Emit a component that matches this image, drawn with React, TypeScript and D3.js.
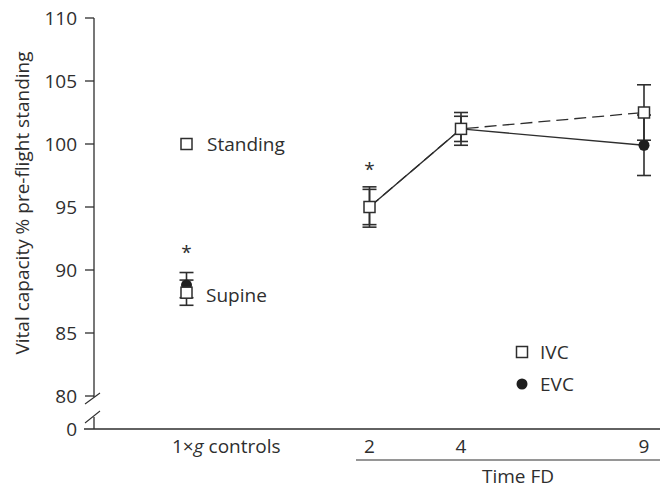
import React, { useEffect, useRef } from "react";
import * as d3 from "d3";

// x slots: controls, (gap), day 2, day 4, (gap), day 9
const slots = ["ctrl", "gapA", "2", "4", "gapB", "9"];
const dayLabels = ["2", "4", "9"];
const yTicks = [80, 85, 90, 95, 100, 105, 110];

// standing control (IVC only)
const standingValue = 100;

// supine controls
const supineIVC = { mean: 88.2, err: 1.0 };
const supineEVC = { mean: 88.8, err: 1.0 };

// in-flight days
const flightDays = ["2", "4", "9"];
const ivcMean = [95.0, 101.2, 102.5];
const ivcErr = [1.4, 1.3, 2.2];
const evcMean = [95.0, 101.2, 99.9];
const evcErr = [1.6, 1.0, 2.4];

const starSlots = ["ctrl", "2"];
const starValues = [92.0, 98.6];

const App = () => {
  const ref = useRef<SVGSVGElement | null>(null);

  useEffect(() => {
    const svg = d3.select(ref.current);
    svg.selectAll("*").remove();

    const ink = "#2e2e2e";
    const font = "'Open Sans', Roboto, sans-serif";
    const fs = 19;

    const x = d3.scalePoint<string>().domain(slots).range([186.5, 644]);
    const y = d3.scaleLinear().domain([80, 110]).range([396, 18]);
    const axisX = 94;
    const zeroY = 429;

    const txt = (sel: any) =>
      sel.attr("font-family", font).attr("font-size", fs).attr("fill", ink);

    // y axis with break
    const g = svg.append("g");
    g.append("line")
      .attr("x1", axisX).attr("x2", axisX)
      .attr("y1", y(110)).attr("y2", y(80) + 1)
      .attr("stroke", ink).attr("stroke-width", 1.3);
    g.append("line")
      .attr("x1", axisX).attr("x2", axisX)
      .attr("y1", zeroY - 12).attr("y2", zeroY)
      .attr("stroke", ink).attr("stroke-width", 1.3);
    // break slashes
    [[y(80) + 8, y(80) - 3], [zeroY - 6, zeroY - 18]].forEach(([ya, yb]) => {
      g.append("line")
        .attr("x1", axisX - 9).attr("y1", ya)
        .attr("x2", axisX + 6).attr("y2", yb)
        .attr("stroke", ink).attr("stroke-width", 1.1);
    });

    yTicks.forEach((t) => {
      g.append("line")
        .attr("x1", axisX - 9).attr("x2", axisX)
        .attr("y1", y(t)).attr("y2", y(t))
        .attr("stroke", ink).attr("stroke-width", 1.3);
      g.append("text")
        .attr("x", axisX - 17).attr("y", y(t))
        .attr("dy", "0.35em")
        .attr("text-anchor", "end")
        .call(txt)
        .text(t);
    });
    g.append("text")
      .attr("x", axisX - 17).attr("y", zeroY)
      .attr("dy", "0.35em")
      .attr("text-anchor", "end")
      .call(txt)
      .text("0");

    // x axis
    g.append("line")
      .attr("x1", axisX - 10).attr("x2", 660)
      .attr("y1", zeroY).attr("y2", zeroY)
      .attr("stroke", ink).attr("stroke-width", 1.3);

    g.append("text")
      .attr("x", 172).attr("y", zeroY + 24)
      .call(txt)
      .call((t: any) => {
        t.append("tspan").text("1×");
        t.append("tspan").attr("font-style", "italic").text("g");
        t.append("tspan").text(" controls");
      });

    dayLabels.forEach((d) => {
      g.append("text")
        .attr("x", x(d)!).attr("y", zeroY + 24)
        .attr("text-anchor", "middle")
        .call(txt)
        .text(d);
    });
    g.append("line")
      .attr("x1", 356).attr("x2", 660)
      .attr("y1", zeroY + 31).attr("y2", zeroY + 31)
      .attr("stroke", ink).attr("stroke-width", 1.2);
    g.append("text")
      .attr("x", 518).attr("y", zeroY + 54)
      .attr("text-anchor", "middle")
      .call(txt)
      .text("Time FD");

    // y label
    g.append("text")
      .attr("transform", `translate(22,203) rotate(-90)`)
      .attr("text-anchor", "middle")
      .attr("dy", "0.35em")
      .call(txt)
      .text("Vital capacity % pre-flight standing");

    // lines
    const line = d3
      .line<[string, number]>()
      .x((d) => x(d[0])!)
      .y((d) => y(d[1]));
    const ivcPts: [string, number][] = flightDays.map((d, i) => [d, ivcMean[i]]);
    const evcPts: [string, number][] = flightDays.map((d, i) => [d, evcMean[i]]);
    svg.append("path")
      .attr("d", line(ivcPts))
      .attr("fill", "none")
      .attr("stroke", ink).attr("stroke-width", 1.3)
      .attr("stroke-dasharray", "12,6");
    svg.append("path")
      .attr("d", line(evcPts))
      .attr("fill", "none")
      .attr("stroke", ink).attr("stroke-width", 1.4);

    // error bars
    const errBar = (xs: string, m: number, e: number) => {
      const cx = x(xs)!;
      svg.append("line")
        .attr("x1", cx).attr("x2", cx)
        .attr("y1", y(m - e)).attr("y2", y(m + e))
        .attr("stroke", ink).attr("stroke-width", 1.6);
      [m - e, m + e].forEach((v) => {
        svg.append("line")
          .attr("x1", cx - 7).attr("x2", cx + 7)
          .attr("y1", y(v)).attr("y2", y(v))
          .attr("stroke", ink).attr("stroke-width", 1.6);
      });
    };
    errBar("ctrl", supineEVC.mean, supineEVC.err);
    errBar("ctrl", supineIVC.mean, supineIVC.err);
    flightDays.forEach((d, i) => {
      errBar(d, evcMean[i], evcErr[i]);
      errBar(d, ivcMean[i], ivcErr[i]);
    });

    const circle = (cx: number, cy: number) =>
      svg.append("circle")
        .attr("cx", cx).attr("cy", cy).attr("r", 5.5)
        .attr("fill", "#1e1e1e");
    const square = (cx: number, cy: number) =>
      svg.append("rect")
        .attr("x", cx - 5.5).attr("y", cy - 5.5)
        .attr("width", 11).attr("height", 11)
        .attr("fill", "#fff")
        .attr("stroke", ink).attr("stroke-width", 1.5);

    // markers: EVC first, IVC on top
    circle(x("ctrl")!, y(supineEVC.mean));
    flightDays.forEach((d, i) => circle(x(d)!, y(evcMean[i])));
    square(x("ctrl")!, y(supineIVC.mean));
    flightDays.forEach((d, i) => square(x(d)!, y(ivcMean[i])));
    square(x("ctrl")!, y(standingValue));

    // annotations
    svg.append("text")
      .attr("x", 207).attr("y", y(standingValue))
      .attr("dy", "0.35em")
      .call(txt)
      .text("Standing");
    svg.append("text")
      .attr("x", 206).attr("y", y(supineIVC.mean) + 3)
      .attr("dy", "0.35em")
      .call(txt)
      .text("Supine");

    starSlots.forEach((s, i) => {
      svg.append("text")
        .attr("x", x(s)!).attr("y", y(starValues[i]))
        .attr("dy", "0.75em")
        .attr("text-anchor", "middle")
        .call(txt)
        .text("*");
    });

    // legend
    square(522, 352);
    svg.append("text")
      .attr("x", 540).attr("y", 352).attr("dy", "0.35em")
      .call(txt).text("IVC");
    circle(522, 384);
    svg.append("text")
      .attr("x", 540).attr("y", 384).attr("dy", "0.35em")
      .call(txt).text("EVC");
  }, []);

  return (
    <svg
      ref={ref}
      width={664}
      height={490}
      style={{ position: "absolute", left: 0, top: 0, background: "#fff" }}
    />
  );
};

export default App;
